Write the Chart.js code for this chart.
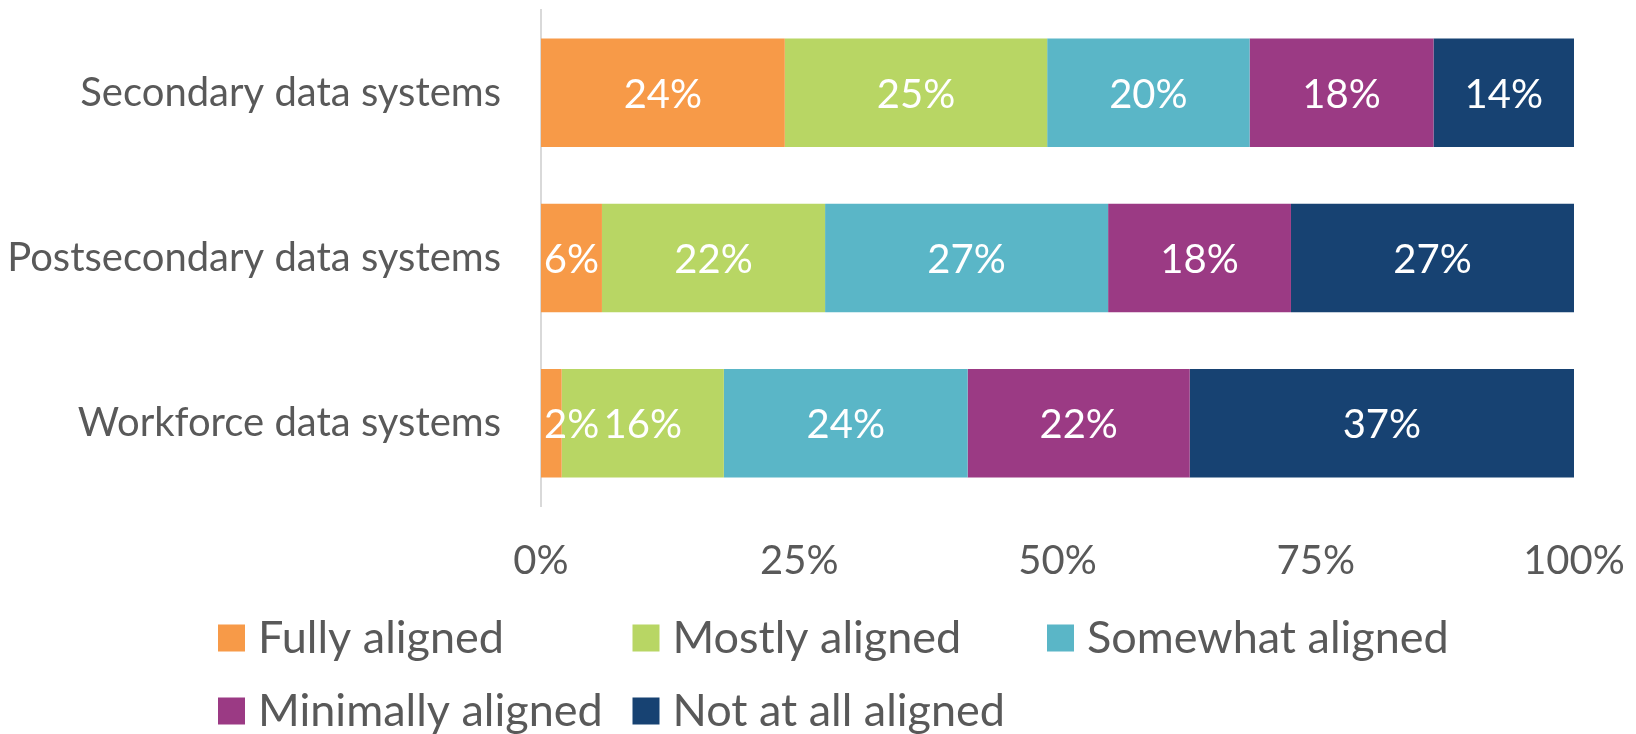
<!DOCTYPE html>
<html>
<head>
<meta charset="utf-8">
<script src="https://cdn.jsdelivr.net/npm/chart.js@4.4.1/dist/chart.umd.min.js"></script>
<style>
html,body{margin:0;padding:0;background:#fff;}
#wrap{width:1636px;height:734px;position:relative;}
</style>
</head>
<body>
<div id="wrap"><canvas id="c" width="1636" height="734"></canvas></div>
<script>
const categories = ["Secondary data systems", "Postsecondary data systems", "Workforce data systems"];
const seriesNames = ["Fully aligned", "Mostly aligned", "Somewhat aligned", "Minimally aligned", "Not at all aligned"];
const fullyAligned = [23.6, 5.9, 2.0];
const mostlyAligned = [25.4, 21.6, 15.7];
const somewhatAligned = [19.6, 27.4, 23.6];
const minimallyAligned = [17.8, 17.7, 21.5];
const notAtAllAligned = [13.6, 27.4, 37.2];
const xTickValues = [0, 25, 50, 75, 100];
const seriesColors = ["#F79A48", "#B8D664", "#5AB6C7", "#9B3A84", "#174272"];

const FONT = "Lato";
const FS = 40;
const LEGEND_FS = 45;
const TXT = "#595959";

const seriesValues = [fullyAligned, mostlyAligned, somewhatAligned, minimallyAligned, notAtAllAligned];

const labelPlugin = {
  id: 'barLabels',
  afterDatasetsDraw(chart) {
    const ctx = chart.ctx;
    ctx.save();
    ctx.font = FS + "px " + FONT;
    ctx.fillStyle = "#ffffff";
    ctx.textBaseline = "middle";
    chart.data.datasets.forEach((ds, di) => {
      const meta = chart.getDatasetMeta(di);
      meta.data.forEach((el, i) => {
        const v = ds.data[i];
        const txt = Math.round(v) + "%";
        const w = ctx.measureText(txt).width;
        const left = Math.min(el.x, el.base), right = Math.max(el.x, el.base);
        if (w > right - left) {
          ctx.textAlign = "left";
          ctx.fillText(txt, left + 3, el.y + 2);
        } else {
          ctx.textAlign = "center";
          ctx.fillText(txt, (left + right) / 2, el.y + 2);
        }
      });
    });
    ctx.restore();
  }
};

const legendPlugin = {
  id: 'gridLegend',
  afterDraw(chart) {
    const ctx = chart.ctx;
    ctx.save();
    ctx.font = LEGEND_FS + "px " + FONT;
    ctx.textBaseline = "middle";
    ctx.textAlign = "left";
    const startX = 218, colW = 414.5, rowY = [638, 711], box = 27;
    chart.data.datasets.forEach((ds, i) => {
      const col = i % 3, row = Math.floor(i / 3);
      const x = startX + col * colW, y = rowY[row];
      ctx.fillStyle = ds.backgroundColor;
      ctx.fillRect(x, y - box / 2, box, box);
      ctx.fillStyle = TXT;
      ctx.fillText(ds.label, x + 40, y);
    });
    ctx.restore();
  }
};

new Chart(document.getElementById('c'), {
  type: 'bar',
  data: {
    labels: categories,
    datasets: seriesNames.map((n, i) => ({
      label: n,
      data: seriesValues[i],
      backgroundColor: seriesColors[i],
      borderWidth: 0,
      barPercentage: 0.656,
      categoryPercentage: 1.0
    }))
  },
  options: {
    indexAxis: 'y',
    responsive: false,
    animation: false,
    layout: { padding: { left: 0, right: 62, top: 10, bottom: 138 } },
    plugins: {
      legend: { display: false },
      tooltip: { enabled: false }
    },
    scales: {
      x: {
        stacked: true,
        min: 0, max: 100,
        afterBuildTicks: s => { s.ticks = xTickValues.map(v => ({ value: v })); },
        afterFit: s => { s.height = 90; s.paddingLeft = 0; s.paddingRight = 0; },
        grid: { display: false, drawTicks: false, tickLength: 0 },
        border: { display: false },
        ticks: {
          color: TXT,
          font: { family: FONT, size: FS },
          padding: 31,
          maxRotation: 0,
          autoSkip: false,
          callback: v => v + "%"
        }
      },
      y: {
        stacked: true,
        afterFit: s => { s.width = 541; s.paddingTop = 0; s.paddingBottom = 0; },
        grid: { display: false, drawTicks: false, tickLength: 0 },
        border: { display: true, color: "#D9D9D9", width: 2 },
        ticks: {
          color: TXT,
          font: { family: FONT, size: FS },
          padding: 40
        }
      }
    }
  },
  plugins: [labelPlugin, legendPlugin]
});
</script>
</body>
</html>
